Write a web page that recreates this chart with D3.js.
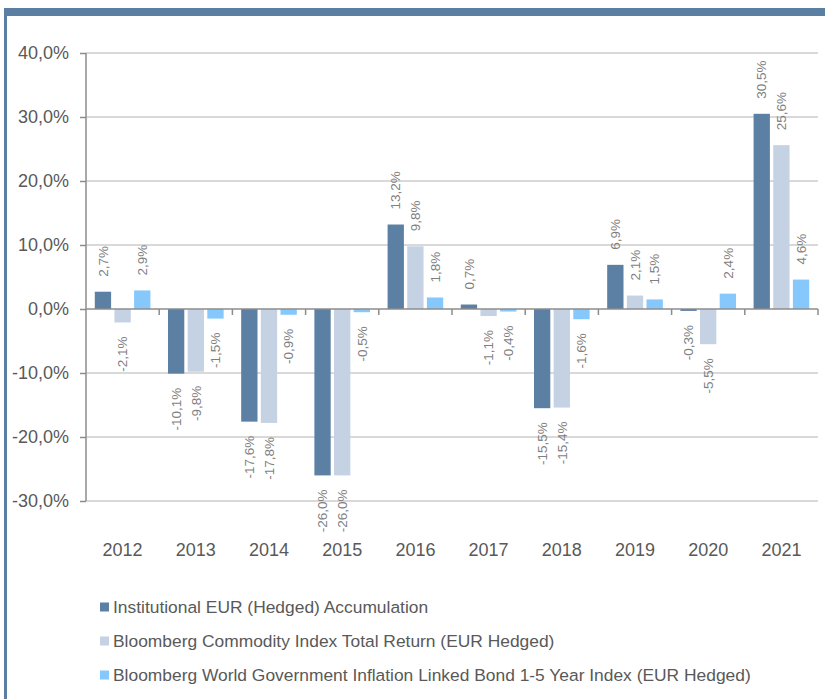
<!DOCTYPE html>
<html>
<head>
<meta charset="utf-8">
<script src="https://cdn.jsdelivr.net/npm/d3@7"></script>
<style>
  body { margin: 0; background: #fff; }
  text { font-family: "Liberation Sans", Arial, sans-serif; }
</style>
</head>
<body>
<script>
    var w = 825; // canvas width
    var h = 699; // canvas height

    // chart data
    var years = ["2012", "2013", "2014", "2015", "2016", "2017", "2018", "2019", "2020", "2021"];
    var seriesNames = [
        "Institutional EUR (Hedged) Accumulation",
        "Bloomberg Commodity Index Total Return (EUR Hedged)",
        "Bloomberg World Government Inflation Linked Bond 1-5 Year Index (EUR Hedged)"
    ];
    var fund = [2.7, -10.1, -17.6, -26.0, 13.2, 0.7, -15.5, 6.9, -0.3, 30.5];
    var commodity = [-2.1, -9.8, -17.8, -26.0, 9.8, -1.1, -15.4, 2.1, -5.5, 25.6];
    var bonds = [2.9, -1.5, -0.9, -0.5, 1.8, -0.4, -1.6, 1.5, 2.4, 4.6];
    var yTicks = [-30, -20, -10, 0, 10, 20, 30, 40];
    var colors = ["#5c80a3", "#c5d2e3", "#86c8fc"];

    var series = [fund, commodity, bonds];
    var fmt = function(v) { return v.toFixed(1).replace(".", ",") + "%"; };

    var svg = d3.select("body").append("svg")
        .attr("width", w)
        .attr("height", h);

    // frame lines (top bar and left edge)
    svg.append("rect").attr("x", 4).attr("y", 8).attr("width", w - 4).attr("height", 8).attr("fill", "#5b7fa3");
    svg.append("rect").attr("x", 4).attr("y", 8).attr("width", 3).attr("height", h - 8).attr("fill", "#5b7fa3");

    var xScale = d3.scaleBand().domain(years).range([86, 818]);
    var inner = d3.scaleBand().domain([0, 1, 2])
        .range([xScale.bandwidth() * 0.12, xScale.bandwidth() * 0.88])
        .paddingInner(0.17);
    var yScale = d3.scaleLinear().domain([-30, 40]).range([501, 53]);

    // gridlines
    svg.append("g").selectAll("line")
        .data(yTicks.filter(function(d) { return d !== 0; }))
        .enter().append("line")
        .attr("x1", 86).attr("x2", 818)
        .attr("y1", function(d) { return yScale(d); })
        .attr("y2", function(d) { return yScale(d); })
        .attr("stroke", "#d9d9d9")
        .attr("stroke-width", 2);

    // bars
    var groups = svg.append("g").selectAll("g")
        .data(years)
        .enter().append("g")
        .attr("transform", function(d) { return "translate(" + xScale(d) + ",0)"; });

    groups.selectAll("rect")
        .data(function(d, i) { return series.map(function(s, k) { return { k: k, v: s[i] }; }); })
        .enter().append("rect")
        .attr("x", function(d) { return inner(d.k); })
        .attr("width", inner.bandwidth())
        .attr("y", function(d) { return yScale(Math.max(0, d.v)); })
        .attr("height", function(d) { return Math.abs(yScale(d.v) - yScale(0)); })
        .attr("fill", function(d) { return colors[d.k]; });

    // value labels, rotated
    groups.selectAll("text")
        .data(function(d, i) { return series.map(function(s, k) { return { k: k, v: s[i] }; }); })
        .enter().append("text")
        .attr("transform", function(d) {
            var cx = inner(d.k) + inner.bandwidth() / 2;
            var cy = d.v >= 0 ? yScale(d.v) - 15 : yScale(d.v) + 14;
            return "translate(" + cx + "," + cy + ") rotate(-90)";
        })
        .attr("dy", "0.35em")
        .attr("text-anchor", function(d) { return d.v >= 0 ? "start" : "end"; })
        .attr("font-size", 13.5)
        .attr("fill", "#7f7f7f")
        .text(function(d) { return fmt(d.v); });

    // y axis
    var yAxis = d3.axisLeft(yScale)
        .tickValues(yTicks)
        .tickSize(6)
        .tickPadding(11)
        .tickFormat(function(d) { return d.toFixed(1).replace(".", ",") + "%"; });

    var gy = svg.append("g")
        .attr("transform", "translate(86,0)")
        .call(yAxis);
    gy.select(".domain").attr("stroke", "#8c8c8c").attr("stroke-width", 1.5).attr("d", "M0,53V501");
    gy.selectAll(".tick line").attr("stroke", "#8c8c8c").attr("stroke-width", 1.5);
    gy.selectAll(".tick text").attr("font-size", 18).attr("fill", "#595959")
        .attr("font-family", "Liberation Sans, Arial, sans-serif");

    // zero line with category ticks
    svg.append("line")
        .attr("x1", 86).attr("x2", 818)
        .attr("y1", yScale(0)).attr("y2", yScale(0))
        .attr("stroke", "#8c8c8c").attr("stroke-width", 1.5);
    svg.append("g").selectAll("line")
        .data(years.slice(1).concat(["end"]))
        .enter().append("line")
        .attr("x1", function(d) { return d === "end" ? 818 : xScale(d); })
        .attr("x2", function(d) { return d === "end" ? 818 : xScale(d); })
        .attr("y1", yScale(0)).attr("y2", yScale(0) + 6)
        .attr("stroke", "#8c8c8c").attr("stroke-width", 1.5);

    // year labels
    svg.append("g").selectAll("text")
        .data(years)
        .enter().append("text")
        .attr("x", function(d) { return xScale(d) + xScale.bandwidth() / 2; })
        .attr("y", 556)
        .attr("text-anchor", "middle")
        .attr("font-size", 18)
        .attr("fill", "#595959")
        .text(function(d) { return d; });

    // legend
    var legend = svg.append("g").selectAll("g")
        .data(seriesNames)
        .enter().append("g")
        .attr("transform", function(d, i) { return "translate(100," + (607 + i * 34) + ")"; });
    legend.append("rect")
        .attr("x", 0).attr("y", -4.5)
        .attr("width", 9).attr("height", 9)
        .attr("fill", function(d, i) { return colors[i]; });
    legend.append("text")
        .attr("x", 13).attr("y", 6)
        .attr("font-size", 17.4)
        .attr("fill", "#595959")
        .text(function(d) { return d; });
</script>
</body>
</html>
